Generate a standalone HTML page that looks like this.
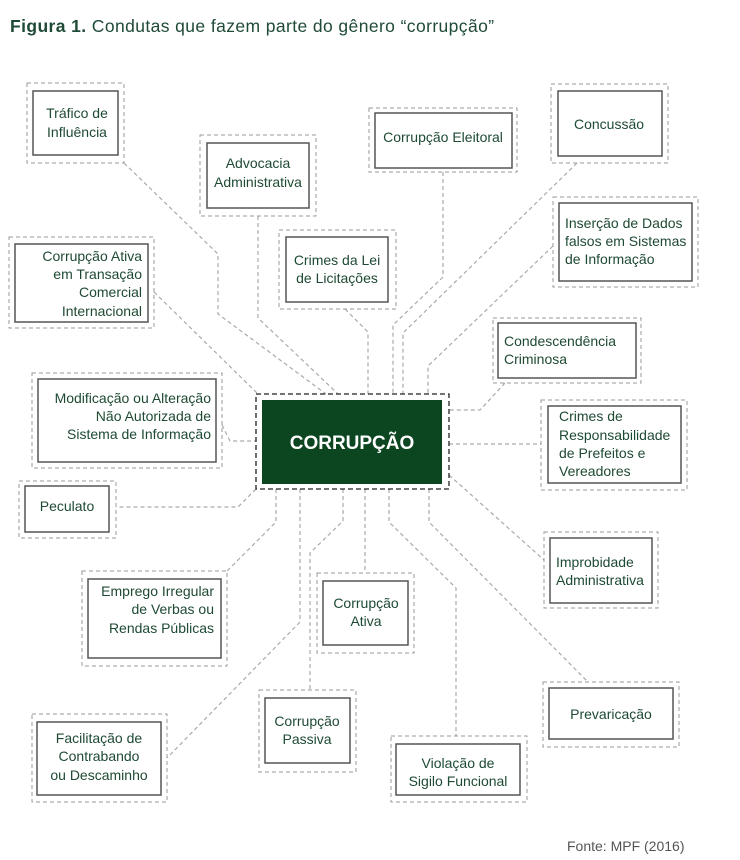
<!DOCTYPE html>
<html><head><meta charset="utf-8"><style>
html,body{margin:0;padding:0;background:#fff;}
svg{display:block;}
text{font-family:"Liberation Sans",sans-serif;}
</style></head><body>
<svg width="740" height="860" viewBox="0 0 740 860" xmlns="http://www.w3.org/2000/svg">
<text x="10" y="32" font-size="17.5" letter-spacing="0.4" fill="#1f4a36"><tspan font-weight="bold">Figura 1.</tspan> Condutas que fazem parte do gênero “corrupção”</text>

<g fill="none" stroke="#aaa" stroke-width="1.2" stroke-dasharray="4,3">
<polyline points="124,163 218,254 218,314 326,394"/>
<polyline points="258,216 258,318 338,394"/>
<polyline points="154,292 258,394"/>
<polyline points="345,309 368,332 368,394"/>
<polyline points="443,172 443,277 393,325 393,394"/>
<polyline points="577,163 403,333 403,394"/>
<polyline points="553,246 428,366 428,394"/>
<polyline points="505,383 480,410 449,410"/>
<polyline points="449,444 541,444"/>
<polyline points="449,475 544,560"/>
<polyline points="429,489 429,522 588,682"/>
<polyline points="389,489 389,522 456,588 456,736"/>
<polyline points="365,489 365,573"/>
<polyline points="343,489 343,521 310,553 310,690"/>
<polyline points="300,489 300,622 167,758"/>
<polyline points="276,489 276,522 227,571"/>
<polyline points="256,489 238,507 116,507"/>
<polyline points="222,425 230,441 256,441"/>
</g>

<g fill="none" stroke="#999" stroke-width="1" stroke-dasharray="4,3">
<rect x="27" y="83" width="97" height="80"/>
<rect x="200" y="135" width="116" height="81"/>
<rect x="369" y="108" width="148" height="64"/>
<rect x="551" y="84" width="117" height="79"/>
<rect x="279" y="230" width="117" height="79"/>
<rect x="9" y="237" width="145" height="91"/>
<rect x="553" y="197" width="145" height="90"/>
<rect x="493" y="318" width="148" height="65"/>
<rect x="32" y="373" width="190" height="95"/>
<rect x="19" y="481" width="97" height="57"/>
<rect x="541" y="400" width="146" height="90"/>
<rect x="544" y="532" width="114" height="76"/>
<rect x="82" y="571" width="145" height="95"/>
<rect x="317" y="573" width="97" height="80"/>
<rect x="32" y="714" width="135" height="88"/>
<rect x="259" y="690" width="97" height="82"/>
<rect x="391" y="736" width="136" height="66"/>
<rect x="543" y="682" width="136" height="65"/>
</g>
<rect x="256" y="394" width="193" height="95" fill="none" stroke="#222" stroke-width="1.3" stroke-dasharray="5,3"/>
<rect x="262" y="400" width="180" height="84" fill="#0b4620"/>
<text x="352" y="449" font-size="19" font-weight="bold" fill="#fff" text-anchor="middle">CORRUPÇÃO</text>

<g fill="#fff" stroke="#555" stroke-width="1.5">
<rect x="33" y="91" width="85" height="64"/>
<rect x="207" y="143" width="102" height="65"/>
<rect x="375" y="113" width="137" height="55"/>
<rect x="558" y="91" width="104" height="65"/>
<rect x="286" y="237" width="102" height="65"/>
<rect x="15" y="244" width="133" height="78"/>
<rect x="559" y="203" width="133" height="78"/>
<rect x="498" y="323" width="138" height="55"/>
<rect x="38" y="379" width="178" height="83"/>
<rect x="25" y="486" width="84" height="46"/>
<rect x="548" y="406" width="133" height="77"/>
<rect x="550" y="538" width="102" height="65"/>
<rect x="88" y="579" width="133" height="79"/>
<rect x="323" y="581" width="85" height="64"/>
<rect x="37" y="722" width="124" height="73"/>
<rect x="265" y="698" width="85" height="65"/>
<rect x="396" y="744" width="124" height="51"/>
<rect x="549" y="688" width="124" height="51"/>
</g>

<g font-size="14" fill="#1e4a33">
<g text-anchor="middle">
<text x="77" y="118">Tráfico de</text><text x="77" y="137">Influência</text>
<text x="258" y="168">Advocacia</text><text x="258" y="187">Administrativa</text>
<text x="443" y="142">Corrupção Eleitoral</text>
<text x="609" y="129">Concussão</text>
<text x="337" y="265">Crimes da Lei</text><text x="337" y="283">de Licitações</text>
<text x="67" y="511">Peculato</text>
<text x="366" y="608">Corrupção</text><text x="366" y="626">Ativa</text>
<text x="99" y="743">Facilitação de</text><text x="99" y="761">Contrabando</text><text x="99" y="780">ou Descaminho</text>
<text x="307" y="726">Corrupção</text><text x="307" y="744">Passiva</text>
<text x="458" y="768">Violação de</text><text x="458" y="786">Sigilo Funcional</text>
<text x="611" y="719">Prevaricação</text>
</g>
<g text-anchor="end">
<text x="142" y="261">Corrupção Ativa</text><text x="142" y="279">em Transação</text><text x="142" y="297">Comercial</text><text x="142" y="316">Internacional</text>
<text x="211" y="403">Modificação ou Alteração</text><text x="211" y="421">Não Autorizada de</text><text x="211" y="439">Sistema de Informação</text>
<text x="214" y="596">Emprego Irregular</text><text x="214" y="614">de Verbas ou</text><text x="214" y="633">Rendas Públicas</text>
</g>
<g>
<text x="565" y="228">Inserção de Dados</text><text x="565" y="246">falsos em Sistemas</text><text x="565" y="264">de Informação</text>
<text x="504" y="346">Condescendência</text><text x="504" y="364">Criminosa</text>
<text x="559" y="421">Crimes de</text><text x="559" y="440">Responsabilidade</text><text x="559" y="458">de Prefeitos e</text><text x="559" y="476">Vereadores</text>
<text x="556" y="567">Improbidade</text><text x="556" y="585">Administrativa</text>
</g>
</g>
<text x="567" y="851" font-size="14" fill="#555">Fonte: MPF (2016)</text>
</svg>
</body></html>
